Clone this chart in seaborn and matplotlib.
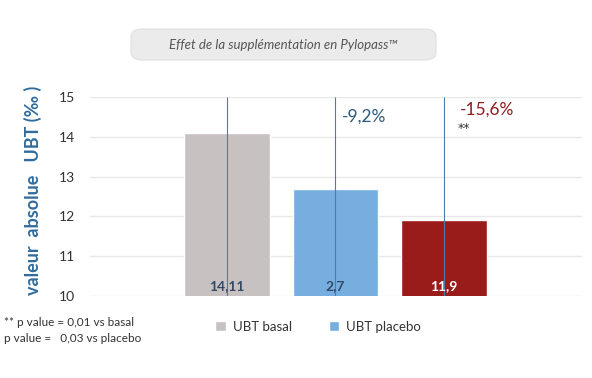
import matplotlib
matplotlib.use("Agg")
import matplotlib.pyplot as plt
from matplotlib.patches import FancyBboxPatch, Patch
import pandas as pd
import seaborn as sb

# values
groups = ["UBT basal", "UBT placebo", "UBT Pylopass"]
values = [14.1, 12.7, 11.9]
bar_labels = ["14,11", "2,7", "11,9"]
changes = ["", "-9,2%", "-15,6%"]
colors = ["#c7c1c1", "#76aedf", "#9a1c1a"]
yticks = [10, 11, 12, 13, 14, 15]

data = pd.DataFrame({"group": groups, "value": values})

sb.set_style("white")
plt.rcParams["font.family"] = ["Lato", "DejaVu Sans"]

fig = plt.figure(figsize=(5.92, 3.78), dpi=100)
ax = fig.add_axes([0.152, 0.217, 0.831, 0.526])

sb.barplot(data=data, x="group", y="value", hue="group", palette=colors,
           width=0.79, legend=False, ax=ax, saturation=1)

ax.set_ylim(10, 15)
ax.set_xlim(-1.26, 3.27)
ax.set_yticks(yticks)
ax.yaxis.grid(True, color="#e8e8e8", linewidth=1)
ax.set_axisbelow(True)
for s in ax.spines.values():
    s.set_visible(False)
ax.set_xticks([])
ax.set_xlabel("")
ax.set_ylabel("valeur  absolue   UBT (‰ )", color="#2f6b9c", fontsize=13,
              fontweight="bold")
ax.yaxis.set_label_coords(-0.098, 0.53)
ax.tick_params(axis="y", length=0, labelsize=10, labelcolor="#333333", pad=11)

# thin vertical lines through the bars
ax.vlines(range(len(groups)), 10, 15, color="#4f7bab", linewidth=0.8, zorder=3)

# value labels at the bar bottom
label_colors = ["#34496a", "#34496a", "white"]
for i, (lab, c) in enumerate(zip(bar_labels, label_colors)):
    ax.text(i, 10.25, lab, ha="center", va="center", color=c,
            fontsize=10, fontweight="bold", zorder=4)

# percent changes
ax.text(1.26, 14.5, changes[1], ha="center", va="center", color="#2d5a7a",
        fontsize=12.5)
ax.text(2.4, 14.68, changes[2], ha="center", va="center", color="#8e1f1f",
        fontsize=12.5)
ax.text(2.18, 14.2, "**", ha="center", va="center", color="#333333",
        fontsize=9, family="DejaVu Sans")

# title box
box = FancyBboxPatch((131 / 592, 1 - 60 / 378), 305 / 592, 31 / 378,
                     boxstyle="round,pad=0,rounding_size=0.02",
                     transform=fig.transFigure, facecolor="#ebebeb",
                     edgecolor="#e0e0e0", linewidth=0.8)
fig.patches.append(box)
fig.text(283 / 592, 1 - 45 / 378, "Effet de la supplémentation en Pylopass™",
         ha="center", va="center", style="italic", color="#555555", fontsize=9.5)

# footnote
fig.text(4 / 592, 1 - 322 / 378, "** p value = 0,01 vs basal",
         ha="left", va="center", color="#333333", fontsize=8.5)
fig.text(4 / 592, 1 - 338 / 378, "p value =   0,03 vs placebo",
         ha="left", va="center", color="#333333", fontsize=8.5)

# legend (only the first two series)
handles = [Patch(facecolor=colors[0], label=groups[0]),
           Patch(facecolor=colors[1], label=groups[1])]
fig.legend(handles=handles, loc="center", bbox_to_anchor=(318 / 592, 1 - 327 / 378),
           ncol=2, frameon=False, fontsize=9.5, handlelength=0.8, handleheight=0.8,
           handletextpad=0.5, columnspacing=2.8, labelcolor="#333333")

plt.savefig("out.png", dpi=100)
